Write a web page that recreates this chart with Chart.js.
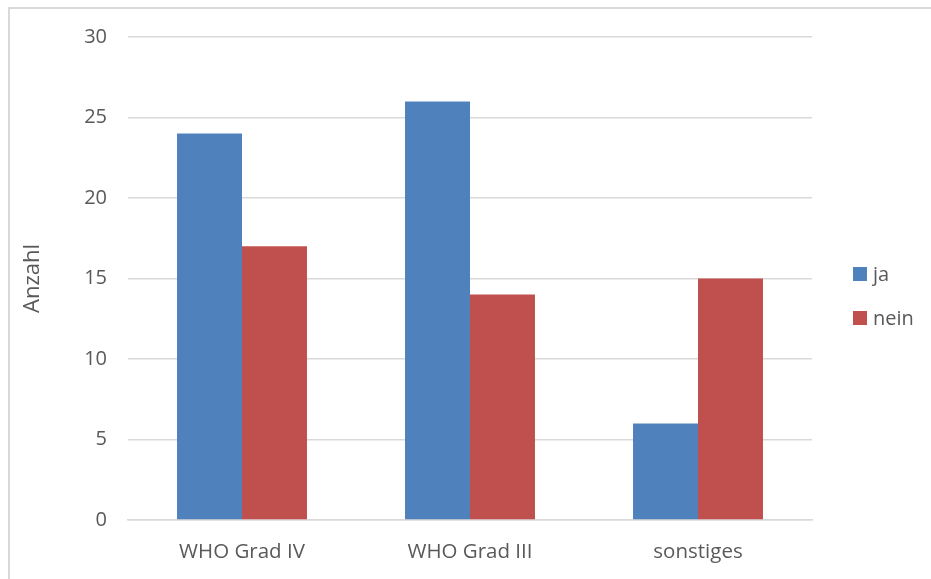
<!DOCTYPE html>
<html>
<head>
<meta charset="utf-8">
<title>Anzahl ja / nein</title>
<script src="https://cdn.jsdelivr.net/npm/chart.js@4.4.1/dist/chart.umd.min.js"></script>
<style>
  html, body { margin: 0; padding: 0; background: #ffffff; }
  #wrap { position: relative; width: 931px; height: 579px; overflow: hidden; }
  #frame {
    position: absolute; left: 8px; top: 7px; width: 1000px; height: 700px;
    border-left: 2px solid #d9d9d9; border-top: 2px solid #d9d9d9;
    pointer-events: none; box-sizing: border-box;
  }
  canvas { position: absolute; left: 0; top: 0; }
</style>
</head>
<body>
<div id="wrap">
  <canvas id="chart" width="931" height="579"></canvas>
  <div id="frame"></div>
</div>
<script>
// Categories and series
const categories = ['WHO Grad IV', 'WHO Grad III', 'sonstiges'];
const seriesNames = ['ja', 'nein'];
const jaValues = [24, 26, 6];
const neinValues = [17, 14, 15];
const yTicks = [0, 5, 10, 15, 20, 25, 30];
const yTitle = 'Anzahl';

const textColor = '#595959';
const fontFamily = "'Open Sans', 'Liberation Sans', sans-serif";
const seriesColors = ['#4f81bd', '#c0504d'];

// Legend drawn at the right, one entry per dataset
const sideLegend = {
  id: 'sideLegend',
  afterDraw(chart) {
    const ctx = chart.ctx;
    const boxSize = 14;
    const x0 = 853;
    const firstY = 274;
    const step = 44;
    ctx.save();
    ctx.font = '20px ' + fontFamily;
    ctx.textBaseline = 'middle';
    ctx.textAlign = 'left';
    chart.data.datasets.forEach((ds, i) => {
      const cy = firstY + i * step;
      ctx.fillStyle = ds.backgroundColor;
      ctx.fillRect(x0, cy - boxSize / 2, boxSize, boxSize);
      ctx.fillStyle = textColor;
      ctx.fillText(ds.label, x0 + boxSize + 6, cy + 1);
    });
    ctx.restore();
  }
};

new Chart(document.getElementById('chart'), {
  type: 'bar',
  data: {
    labels: categories,
    datasets: [
      { label: seriesNames[0], data: jaValues, backgroundColor: seriesColors[0] },
      { label: seriesNames[1], data: neinValues, backgroundColor: seriesColors[1] }
    ]
  },
  options: {
    responsive: false,
    animation: false,
    devicePixelRatio: 1,
    layout: { padding: { left: 0, top: 37, right: 119, bottom: 0 } },
    datasets: { bar: { categoryPercentage: 0.57, barPercentage: 1.0 } },
    plugins: {
      legend: { display: false },
      tooltip: { enabled: false }
    },
    scales: {
      x: {
        grid: { display: false, drawTicks: false },
        border: { display: true, color: '#d9d9d9', width: 1.5 },
        ticks: {
          color: textColor,
          font: { size: 20.5, family: fontFamily },
          padding: 20,
          maxRotation: 0
        },
        afterFit(scale) { scale.height = 59; }
      },
      y: {
        min: 0,
        max: 30,
        afterBuildTicks(scale) { scale.ticks = yTicks.map(v => ({ value: v })); },
        grid: { color: '#d9d9d9', lineWidth: 1.5, drawTicks: false },
        border: { display: false },
        ticks: {
          color: textColor,
          font: { size: 20, family: fontFamily },
          padding: 21
        },
        title: {
          display: true,
          text: yTitle,
          color: textColor,
          font: { size: 22, family: fontFamily },
          padding: { top: 20, bottom: 0 }
        },
        afterFit(scale) { scale.width = 128; }
      }
    }
  },
  plugins: [sideLegend]
});
</script>
</body>
</html>
